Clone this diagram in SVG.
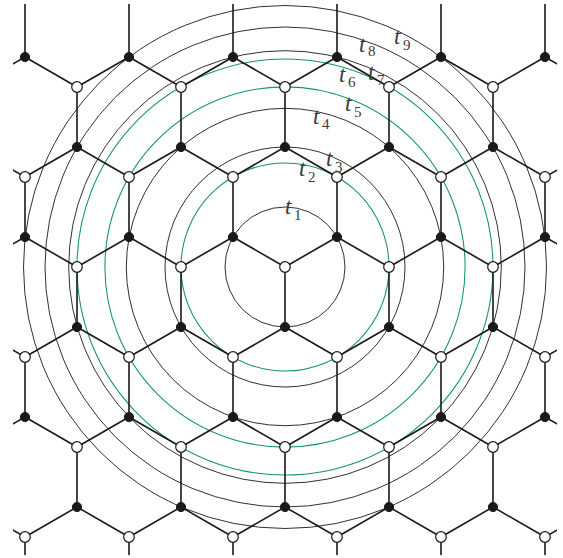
<svg xmlns="http://www.w3.org/2000/svg" width="563" height="558" viewBox="0 0 563 558">
<style>
.c{fill:none;stroke:#262626;stroke-width:0.95}
.g{fill:none;stroke:#12985c;stroke-width:1.05}
.e{fill:none;stroke:#1a1a1a;stroke-width:1.6;stroke-linecap:round}
.w{fill:#fff;stroke:#1a1a1a;stroke-width:1.2}
.b{fill:#1a1a1a;stroke:#1a1a1a;stroke-width:1}
.t{font-family:"Liberation Serif","DejaVu Serif",serif;font-style:italic;font-size:23px;fill:#3a3a3a}
.s{font-family:"Liberation Serif","DejaVu Serif",serif;font-size:15px;fill:#3a3a3a}
</style>
<defs>
<clipPath id="clip"><rect x="13" y="4" width="544" height="551"/></clipPath>
</defs>
<rect width="563" height="558" fill="#fff"/>
<g id="circles">
<circle class="c" cx="285" cy="267" r="60"/>
<circle class="g" cx="285" cy="267" r="104"/>
<circle class="c" cx="285" cy="267" r="120"/>
<circle class="c" cx="285" cy="267" r="158.7"/>
<circle class="g" cx="285" cy="267" r="180.1"/>
<circle class="g" cx="285" cy="267" r="208"/>
<circle class="c" cx="285" cy="267" r="216.3"/>
<circle class="c" cx="285" cy="267" r="240"/>
<circle class="c" cx="285" cy="267" r="261.5"/>
</g>
<g id="connectors" clip-path="url(#clip)">
<path class="e" d="M-27 87L25 57L77 87M25 57V-3M77 87L129 57L181 87M129 57V-3M181 87L233 57L285 87M233 57V-3M285 87L337 57L389 87M337 57V-3M389 87L441 57L493 87M441 57V-3M493 87L545 57L597 87M545 57V-3"/>
<path class="e" d="M-79 177L-27 147L25 177M-27 147V87M25 177L77 147L129 177M77 147V87M129 177L181 147L233 177M181 147V87M233 177L285 147L337 177M285 147V87M337 177L389 147L441 177M389 147V87M441 177L493 147L545 177M493 147V87M545 177L597 147L649 177M597 147V87"/>
<path class="e" d="M-27 267L25 237L77 267M25 237V177M77 267L129 237L181 267M129 237V177M181 267L233 237L285 267M233 237V177M285 267L337 237L389 267M337 237V177M389 267L441 237L493 267M441 237V177M493 267L545 237L597 267M545 237V177"/>
<path class="e" d="M-79 357L-27 327L25 357M-27 327V267M25 357L77 327L129 357M77 327V267M129 357L181 327L233 357M181 327V267M233 357L285 327L337 357M285 327V267M337 357L389 327L441 357M389 327V267M441 357L493 327L545 357M493 327V267M545 357L597 327L649 357M597 327V267"/>
<path class="e" d="M-27 447L25 417L77 447M25 417V357M77 447L129 417L181 447M129 417V357M181 447L233 417L285 447M233 417V357M285 447L337 417L389 447M337 417V357M389 447L441 417L493 447M441 417V357M493 447L545 417L597 447M545 417V357"/>
<path class="e" d="M-79 537L-27 507L25 537M-27 507V447M25 537L77 507L129 537M77 507V447M129 537L181 507L233 537M181 507V447M233 537L285 507L337 537M285 507V447M337 537L389 507L441 537M389 507V447M441 537L493 507L545 537M493 507V447M545 537L597 507L649 537M597 507V447"/>
<path class="e" d="M25 597V537M129 597V537M233 597V537M337 597V537M441 597V537M545 597V537"/>
</g>
<g id="nodes">
<g id="b25_57"><circle class="b" cx="25" cy="57" r="4.6"/></g>
<g id="b129_57"><circle class="b" cx="129" cy="57" r="4.6"/></g>
<g id="b233_57"><circle class="b" cx="233" cy="57" r="4.6"/></g>
<g id="b337_57"><circle class="b" cx="337" cy="57" r="4.6"/></g>
<g id="b441_57"><circle class="b" cx="441" cy="57" r="4.6"/></g>
<g id="b545_57"><circle class="b" cx="545" cy="57" r="4.6"/></g>
<g id="w77_87"><circle class="w" cx="77" cy="87" r="5.3"/></g>
<g id="w181_87"><circle class="w" cx="181" cy="87" r="5.3"/></g>
<g id="w285_87"><circle class="w" cx="285" cy="87" r="5.3"/></g>
<g id="w389_87"><circle class="w" cx="389" cy="87" r="5.3"/></g>
<g id="w493_87"><circle class="w" cx="493" cy="87" r="5.3"/></g>
<g id="b77_147"><circle class="b" cx="77" cy="147" r="4.6"/></g>
<g id="b181_147"><circle class="b" cx="181" cy="147" r="4.6"/></g>
<g id="b285_147"><circle class="b" cx="285" cy="147" r="4.6"/></g>
<g id="b389_147"><circle class="b" cx="389" cy="147" r="4.6"/></g>
<g id="b493_147"><circle class="b" cx="493" cy="147" r="4.6"/></g>
<g id="w25_177"><circle class="w" cx="25" cy="177" r="5.3"/></g>
<g id="w129_177"><circle class="w" cx="129" cy="177" r="5.3"/></g>
<g id="w233_177"><circle class="w" cx="233" cy="177" r="5.3"/></g>
<g id="w337_177"><circle class="w" cx="337" cy="177" r="5.3"/></g>
<g id="w441_177"><circle class="w" cx="441" cy="177" r="5.3"/></g>
<g id="w545_177"><circle class="w" cx="545" cy="177" r="5.3"/></g>
<g id="b25_237"><circle class="b" cx="25" cy="237" r="4.6"/></g>
<g id="b129_237"><circle class="b" cx="129" cy="237" r="4.6"/></g>
<g id="b233_237"><circle class="b" cx="233" cy="237" r="4.6"/></g>
<g id="b337_237"><circle class="b" cx="337" cy="237" r="4.6"/></g>
<g id="b441_237"><circle class="b" cx="441" cy="237" r="4.6"/></g>
<g id="b545_237"><circle class="b" cx="545" cy="237" r="4.6"/></g>
<g id="w77_267"><circle class="w" cx="77" cy="267" r="5.3"/></g>
<g id="w181_267"><circle class="w" cx="181" cy="267" r="5.3"/></g>
<g id="w285_267"><circle class="w" cx="285" cy="267" r="5.3"/></g>
<g id="w389_267"><circle class="w" cx="389" cy="267" r="5.3"/></g>
<g id="w493_267"><circle class="w" cx="493" cy="267" r="5.3"/></g>
<g id="b77_327"><circle class="b" cx="77" cy="327" r="4.6"/></g>
<g id="b181_327"><circle class="b" cx="181" cy="327" r="4.6"/></g>
<g id="b285_327"><circle class="b" cx="285" cy="327" r="4.6"/></g>
<g id="b389_327"><circle class="b" cx="389" cy="327" r="4.6"/></g>
<g id="b493_327"><circle class="b" cx="493" cy="327" r="4.6"/></g>
<g id="w25_357"><circle class="w" cx="25" cy="357" r="5.3"/></g>
<g id="w129_357"><circle class="w" cx="129" cy="357" r="5.3"/></g>
<g id="w233_357"><circle class="w" cx="233" cy="357" r="5.3"/></g>
<g id="w337_357"><circle class="w" cx="337" cy="357" r="5.3"/></g>
<g id="w441_357"><circle class="w" cx="441" cy="357" r="5.3"/></g>
<g id="w545_357"><circle class="w" cx="545" cy="357" r="5.3"/></g>
<g id="b25_417"><circle class="b" cx="25" cy="417" r="4.6"/></g>
<g id="b129_417"><circle class="b" cx="129" cy="417" r="4.6"/></g>
<g id="b233_417"><circle class="b" cx="233" cy="417" r="4.6"/></g>
<g id="b337_417"><circle class="b" cx="337" cy="417" r="4.6"/></g>
<g id="b441_417"><circle class="b" cx="441" cy="417" r="4.6"/></g>
<g id="b545_417"><circle class="b" cx="545" cy="417" r="4.6"/></g>
<g id="w77_447"><circle class="w" cx="77" cy="447" r="5.3"/></g>
<g id="w181_447"><circle class="w" cx="181" cy="447" r="5.3"/></g>
<g id="w285_447"><circle class="w" cx="285" cy="447" r="5.3"/></g>
<g id="w389_447"><circle class="w" cx="389" cy="447" r="5.3"/></g>
<g id="w493_447"><circle class="w" cx="493" cy="447" r="5.3"/></g>
<g id="b77_507"><circle class="b" cx="77" cy="507" r="4.6"/></g>
<g id="b181_507"><circle class="b" cx="181" cy="507" r="4.6"/></g>
<g id="b285_507"><circle class="b" cx="285" cy="507" r="4.6"/></g>
<g id="b389_507"><circle class="b" cx="389" cy="507" r="4.6"/></g>
<g id="b493_507"><circle class="b" cx="493" cy="507" r="4.6"/></g>
<g id="w25_537"><circle class="w" cx="25" cy="537" r="5.3"/></g>
<g id="w129_537"><circle class="w" cx="129" cy="537" r="5.3"/></g>
<g id="w233_537"><circle class="w" cx="233" cy="537" r="5.3"/></g>
<g id="w337_537"><circle class="w" cx="337" cy="537" r="5.3"/></g>
<g id="w441_537"><circle class="w" cx="441" cy="537" r="5.3"/></g>
<g id="w545_537"><circle class="w" cx="545" cy="537" r="5.3"/></g>
</g>
<g id="labels">
<text class="t" x="285" y="214">t</text><text class="s" x="294" y="220">1</text>
<text class="t" x="299" y="176">t</text><text class="s" x="308" y="182">2</text>
<text class="t" x="326" y="166">t</text><text class="s" x="335" y="172">3</text>
<text class="t" x="313" y="124">t</text><text class="s" x="322" y="129">4</text>
<text class="t" x="345" y="111">t</text><text class="s" x="354" y="117">5</text>
<text class="t" x="339" y="82">t</text><text class="s" x="348" y="87">6</text>
<text class="t" x="368" y="80">t</text><text class="s" x="377" y="85">7</text>
<text class="t" x="359" y="52">t</text><text class="s" x="368" y="56">8</text>
<text class="t" x="394" y="44">t</text><text class="s" x="403" y="50">9</text>
</g>
</svg>
